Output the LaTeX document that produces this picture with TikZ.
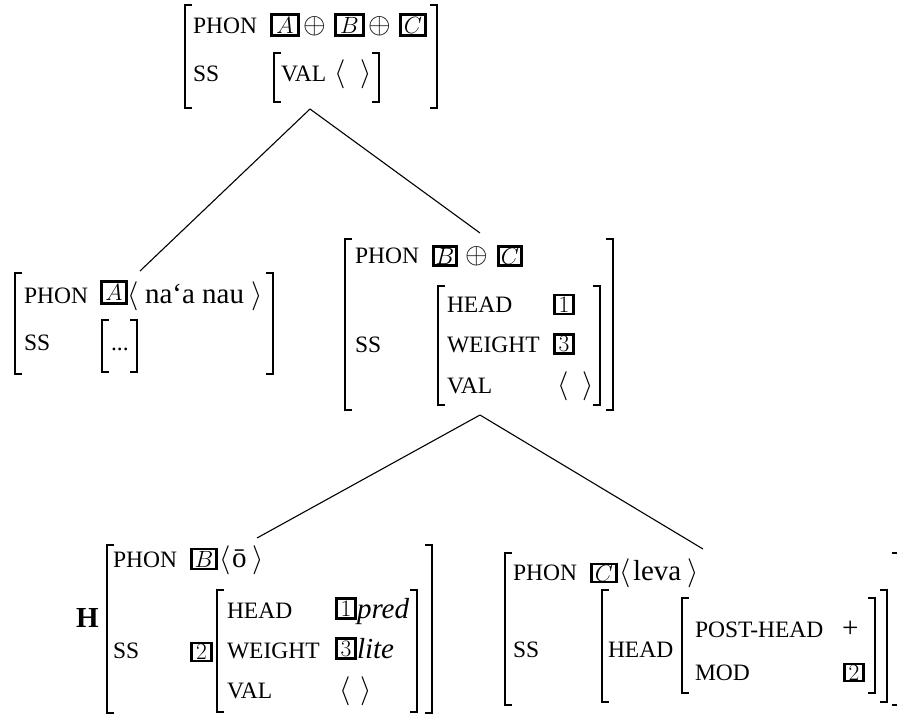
\RequirePackage{fix-cm}
\documentclass[tikz,border=0pt]{standalone}
\usepackage[no-math]{fontspec}
\setmainfont{Liberation Serif}
\newcommand\avmL[3]{\draw[brk] ({#1+7},#2) -- (#1,#2) -- (#1,#3) -- ({#1+7},#3);}
\newcommand\avmR[3]{\draw[brk] ({#1-7},#2) -- (#1,#2) -- (#1,#3) -- ({#1-7},#3);}
\begin{document}
\begin{tikzpicture}[x=1pt,y=-1pt,
  font=\fontsize{29}{34}\selectfont,
  lbl/.style={anchor=base west,inner sep=0pt,outer sep=0pt},
  feat/.style={lbl,font=\fontsize{23.5}{28}\selectfont},
  tagb/.style={draw,line width=2.6pt,inner sep=0pt,anchor=center,font=\fontsize{23.5}{28}\selectfont},
  brk/.style={line width=1.3pt},
  edge/.style={line width=1.1pt}]
\useasboundingbox (0,0) rectangle (897,715);
% ---------- root ----------
\avmL{185}{5}{108}\avmR{437}{5}{108}
\node[feat] (r-phon) at (193,33) {PHON};
\node[tagb,minimum width=27,minimum height=21] (r-A) at (285,25) {$A$};
\node[lbl] (r-op1) at (303,33) {$\oplus$};
\node[tagb,minimum width=28,minimum height=21] (r-B) at (349.5,25) {$B$};
\node[lbl] (r-op2) at (368,33) {$\oplus$};
\node[tagb,minimum width=25,minimum height=21] (r-C) at (413,25) {$C$};
\node[feat] (r-ss) at (193,81) {SS};
\avmL{274}{53}{102}\avmR{379}{53}{102}
\node[feat] (r-val) at (281,81) {VAL};
\node[lbl] (r-la) at (334,81) {$\langle$};
\node[lbl] (r-ra) at (360,81) {$\rangle$};
\coordinate (r-bot) at (310,109);
% ---------- left daughter ----------
\avmL{15}{273}{374}\avmR{273}{273}{374}
\node[feat] (l-phon) at (24,303) {PHON};
\node[tagb,minimum width=25,minimum height=22] (l-A) at (114,292.5) {$A$};
\node[lbl] (l-la) at (127,303) {$\langle$};
\node[lbl] (l-txt) at (145,303) {na‘a nau};
\node[lbl] (l-ra) at (251,303) {$\rangle$};
\node[feat] (l-ss) at (24,350) {SS};
\avmL{102}{320}{372}\avmR{137}{320}{372}
\node[feat] (l-dots) at (111,350) {...};
\coordinate (l-top) at (140,271);
% ---------- middle daughter ----------
\avmL{345}{239}{410}\avmR{613}{239}{410}
\node[feat] (m-phon) at (355,263) {PHON};
\node[tagb,minimum width=23,minimum height=19] (m-B) at (445,256) {$B$};
\node[lbl] (m-op) at (465,263) {$\oplus$};
\node[tagb,minimum width=23,minimum height=19] (m-C) at (510,256) {$C$};
\node[feat] (m-ss) at (355,352) {SS};
\avmL{438}{286}{405}\avmR{600}{286}{405}
\node[feat] (m-head) at (447,312) {HEAD};
\node[tagb,minimum width=19,minimum height=19] (m-1) at (564,304.5) {$1$};
\node[feat] (m-weight) at (447,352) {WEIGHT};
\node[tagb,minimum width=19,minimum height=19] (m-3) at (564,344) {$3$};
\node[feat] (m-val) at (447,393) {VAL};
\node[lbl] (m-la) at (557,393) {$\langle$};
\node[lbl] (m-ra) at (582,393) {$\rangle$};
\coordinate (m-top) at (480,233);
\coordinate (m-bot) at (480,415);
% ---------- bottom left (head) ----------
\node[lbl] (h-H) at (76,627) {\textbf{H}};
\avmL{107}{545}{713}\avmR{432}{545}{713}
\node[feat] (h-phon) at (113,567) {PHON};
\node[tagb,minimum width=25,minimum height=20] (h-B) at (204,559) {$B$};
\node[lbl] (h-la) at (219,567) {$\langle$};
\node[lbl] (h-o) at (232,567) {ō};
\node[lbl] (h-ra) at (252,567) {$\rangle$};
\node[feat] (h-ss) at (113,658) {SS};
\node[tagb,minimum width=20,minimum height=18] (h-2) at (201.5,652) {$2$};
\avmL{217}{590}{712}\avmR{417}{590}{712}
\node[feat] (h-head) at (227,618) {HEAD};
\node[tagb,minimum width=19,minimum height=20] (h-1) at (346,608.5) {$1$};
\node[lbl] (h-pred) at (357,618) {\textit{pred}};
\node[feat] (h-weight) at (227,658) {WEIGHT};
\node[tagb,minimum width=19,minimum height=20] (h-3) at (346,648.5) {$3$};
\node[lbl] (h-lite) at (357,658) {\textit{lite}};
\node[feat] (h-val) at (227,698) {VAL};
\node[lbl] (h-la2) at (339,698) {$\langle$};
\node[lbl] (h-ra2) at (360,698) {$\rangle$};
\coordinate (h-top) at (257,538);
% ---------- bottom right ----------
\avmL{505}{553}{705}\avmR{899}{553}{705}
\node[feat] (c-phon) at (513,580) {PHON};
\node[tagb,minimum width=25,minimum height=18] (c-C) at (604,573) {$C$};
\node[lbl] (c-la) at (619,580) {$\langle$};
\node[lbl] (c-txt) at (633,580) {leva};
\node[lbl] (c-ra) at (687,580) {$\rangle$};
\node[feat] (c-ss) at (513,657) {SS};
\avmL{602}{590}{702}\avmR{887}{590}{702}
\node[feat] (c-head) at (608,657) {HEAD};
\avmL{682}{598}{693}\avmR{875}{598}{693}
\node[feat] (c-post) at (695,637) {POST-HEAD};
\node[lbl] (c-plus) at (842,637) {+};
\node[feat] (c-mod) at (695,680) {MOD};
\node[tagb,minimum width=19,minimum height=17] (c-2) at (854,672.5) {$2$};
\coordinate (c-top) at (703,549);
% ---------- tree edges ----------
\draw[edge] (r-bot) -- (l-top);
\draw[edge] (r-bot) -- (m-top);
\draw[edge] (m-bot) -- (h-top);
\draw[edge] (m-bot) -- (c-top);
\end{tikzpicture}
\end{document}
